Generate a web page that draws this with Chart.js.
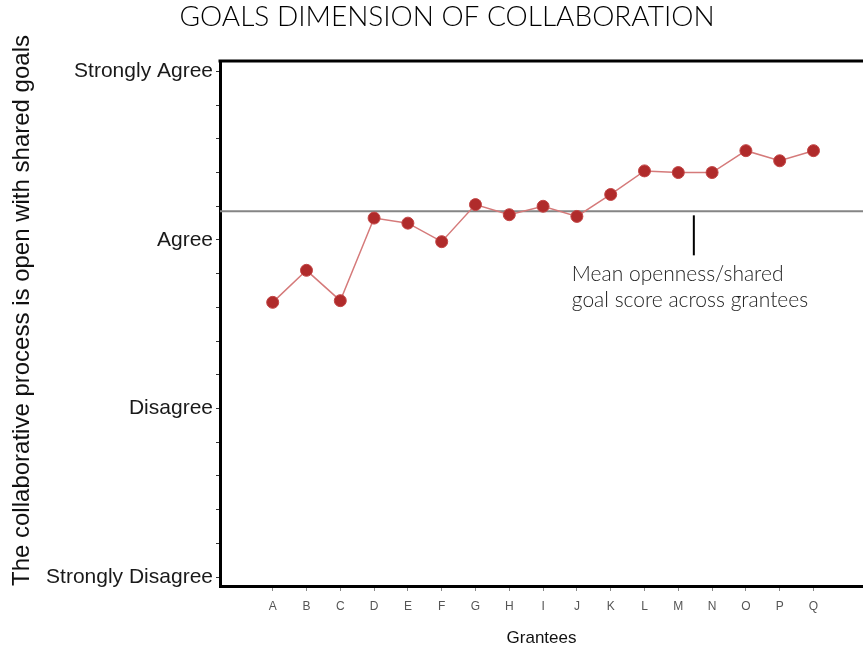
<!DOCTYPE html>
<html>
<head>
<meta charset="utf-8">
<script src="https://cdn.jsdelivr.net/npm/chart.js@4"></script>
<style>
    html, body { margin: 0; padding: 0; background: #fff; }
    #wrap { width: 863px; height: 645px; }
</style>
</head>
<body>
<div id="wrap"><canvas id="goalsChart"></canvas></div>
<script>
// Grantee scores (1 = Strongly Disagree ... 4 = Strongly Agree)
const grantees = ['A', 'B', 'C', 'D', 'E', 'F', 'G', 'H', 'I', 'J', 'K', 'L', 'M', 'N', 'O', 'P', 'Q'];
const scores = [2.63, 2.82, 2.64, 3.13, 3.10, 2.99, 3.21, 3.15, 3.20, 3.14, 3.27, 3.41, 3.40, 3.40, 3.53, 3.47, 3.53];
const meanScore = 3.17;
const agreementLabels = ['Strongly Disagree', 'Disagree', 'Agree', 'Strongly Agree'];

const chartTitle = 'GOALS DIMENSION OF COLLABORATION';
const noteLines = ['Mean openness/shared', 'goal score across grantees'];

/**
 * Extra drawing: title, top border, mean line and its note
 */
const decorPlugin = {
    id: 'decor',
    beforeDatasetsDraw(chart) {
        const { ctx, chartArea, scales } = chart;
        const yMean = scales.y.getPixelForValue(meanScore);

        // Mean line across the plot
        ctx.save();
        ctx.strokeStyle = '#858585';
        ctx.lineWidth = 2;
        ctx.beginPath();
        ctx.moveTo(chartArea.left, yMean);
        ctx.lineTo(chartArea.right, yMean);
        ctx.stroke();
        ctx.restore();
    },
    afterDraw(chart) {
        const { ctx, chartArea, scales } = chart;
        const yMean = scales.y.getPixelForValue(meanScore);

        ctx.save();

        // Top border of the plot
        ctx.strokeStyle = '#000';
        ctx.lineWidth = 3;
        ctx.beginPath();
        ctx.moveTo(chartArea.left - 1.5, chartArea.top);
        ctx.lineTo(chartArea.right, chartArea.top);
        ctx.stroke();

        // Leader line for the mean note
        const xLeader = scales.x.getPixelForValue(12.46);
        ctx.lineWidth = 2;
        ctx.beginPath();
        ctx.moveTo(xLeader, yMean + 4);
        ctx.lineTo(xLeader, yMean + 44);
        ctx.stroke();

        // Note text
        ctx.fillStyle = '#222';
        ctx.font = '300 21px Lato';
        ctx.textAlign = 'left';
        ctx.textBaseline = 'middle';
        const xNote = scales.x.getPixelForValue(8.85);
        noteLines.forEach((line, i) => {
            ctx.fillText(line, xNote, yMean + 63 + i * 26);
        });

        // Chart title
        ctx.fillStyle = '#000';
        ctx.font = '300 28px Lato';
        ctx.textAlign = 'center';
        ctx.fillText(chartTitle, 447, 17);

        ctx.restore();
    }
};

const ctx = document.getElementById('goalsChart').getContext('2d');

new Chart(ctx, {
    type: 'line',
    data: {
        datasets: [{
            label: 'Openness / shared goals',
            data: grantees.map((g, i) => ({ x: i, y: scores[i] })),
            borderColor: '#d57a7a',
            borderWidth: 1.5,
            backgroundColor: '#b02b2b',
            pointBackgroundColor: '#b02b2b',
            pointBorderColor: '#c24545',
            pointBorderWidth: 1,
            pointRadius: 6,
            tension: 0
        }]
    },
    options: {
        responsive: true,
        maintainAspectRatio: false,
        animation: false,
        layout: {
            autoPadding: false,
            padding: { top: 61, left: 0, right: 0, bottom: 0 }
        },
        plugins: {
            legend: { display: false },
            tooltip: { enabled: false },
            title: { display: false }
        },
        scales: {
            x: {
                type: 'linear',
                min: -1.559,
                max: 17.465,
                afterBuildTicks: function(scale) {
                    scale.ticks = grantees.map((g, i) => ({ value: i }));
                },
                afterFit: function(scale) {
                    scale.height = 59;
                    scale.paddingLeft = 0;
                    scale.paddingRight = 0;
                },
                ticks: {
                    autoSkip: false,
                    maxRotation: 0,
                    padding: 8,
                    color: '#555',
                    font: { family: 'Liberation Sans', size: 12 },
                    callback: function(value) {
                        return grantees[value];
                    }
                },
                grid: {
                    display: true,
                    drawOnChartArea: false,
                    drawTicks: true,
                    tickLength: 5,
                    color: '#888'
                },
                border: { display: true, color: '#000', width: 3 },
                title: {
                    display: true,
                    text: 'Grantees',
                    color: '#111',
                    font: { family: 'Liberation Sans', size: 17 },
                    padding: { top: 0, bottom: -4 }
                }
            },
            y: {
                type: 'linear',
                min: 0.947,
                max: 4.062,
                afterBuildTicks: function(scale) {
                    const ticks = [];
                    for (let k = 0; k <= 15; k++) {
                        ticks.push({ value: 1 + k * 0.2 });
                    }
                    scale.ticks = ticks;
                },
                afterFit: function(scale) {
                    scale.width = 220;
                },
                ticks: {
                    autoSkip: false,
                    padding: 3,
                    color: '#1a1a1a',
                    font: { family: 'Liberation Sans', size: 21 },
                    callback: function(value) {
                        const r = Math.round(value);
                        if (Math.abs(value - r) < 0.001) {
                            return agreementLabels[r - 1];
                        }
                        return '';
                    }
                },
                grid: {
                    display: true,
                    drawOnChartArea: false,
                    drawTicks: true,
                    tickLength: 4,
                    color: '#333'
                },
                border: { display: true, color: '#000', width: 3 },
                title: {
                    display: true,
                    text: 'The collaborative process is open with shared goals',
                    align: 'start',
                    color: '#111',
                    font: { family: 'Liberation Sans', size: 24 },
                    padding: { top: 8, bottom: 0 }
                }
            }
        }
    },
    plugins: [decorPlugin]
});
</script>
</body>
</html>
